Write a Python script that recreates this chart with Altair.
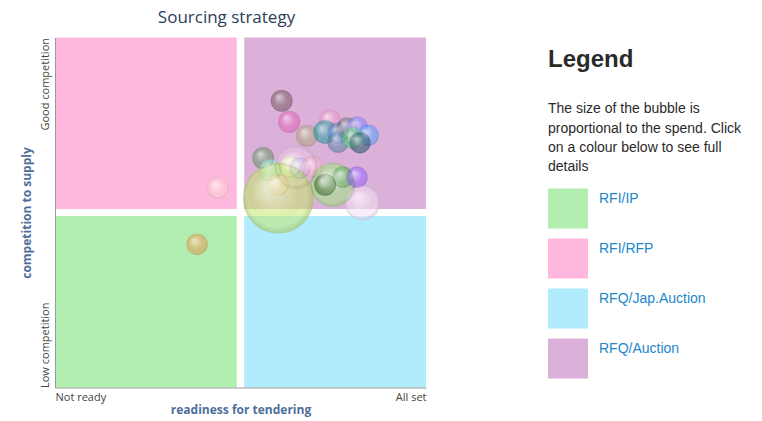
import altair as alt
import pandas as pd

# ---------------- text ----------------
chart_title = "Sourcing strategy"
x_title = "readiness for tendering"
y_title = "competition to supply"
x_tick_labels = ["Not ready", "All set"]
y_tick_labels = ["Low competition", "Good competition"]
legend_heading = "Legend"
legend_lines = [
    "The size of the bubble is",
    "proportional to the spend. Click",
    "on a colour below to see full",
    "details",
]

# ---------------- quadrants (strategies) ----------------
quad_names = ["RFI/IP", "RFI/RFP", "RFQ/Jap.Auction", "RFQ/Auction"]
quad_colors = ["#b2eeb0", "#feb8de", "#b0ebfe", "#dbb1da"]
quad_x0 = [0, 0, 51, 51]
quad_x1 = [49, 49, 100, 100]
quad_y0 = [0, 51, 0, 51]
quad_y1 = [49, 100, 49, 100]

# ---------------- bubbles ----------------
bubble_ids = ["C01", "C02", "C03", "C04", "C05", "C06", "C07", "C08", "C09",
              "C10", "C11", "C12", "C13", "C14", "C15", "C16", "C17", "C18",
              "C19", "C20", "C21", "C22", "C23", "C24", "C25", "C26", "C27"]
readiness = [61.1, 63.1, 74.1, 67.9, 72.8, 76.3, 78.7, 81.4, 84.4,
             76.3, 80.3, 82.2, 56.1, 65.0, 58.0, 63.3, 66.0, 69.3,
             60.1, 60.2, 74.9, 77.6, 72.8, 81.4, 82.9, 43.9, 38.3]
competition = [81.9, 75.9, 76.4, 71.9, 73.0, 72.7, 74.1, 74.4, 72.1,
               70.1, 71.3, 69.9, 65.6, 62.9, 62.1, 63.0, 62.7, 63.0,
               57.9, 54.1, 57.9, 60.1, 57.9, 60.1, 52.7, 57.0, 40.9]
spend = [9.5, 9.5, 9, 9.5, 11, 9, 9, 9, 9,
         9, 9, 9, 9.5, 36, 9.5, 9, 9, 9,
         9.5, 100, 39, 9, 9.5, 9, 24, 9, 9]
bubble_colors = ["#7a5a5e", "#e464bb", "#ed9ecc", "#b2a681", "#20a0a0", "#6785dd",
                 "#787479", "#8985fe", "#579eff", "#5785aa", "#67e889", "#255368",
                 "#679568", "#edc8e5", "#aafae5", "#edffaa", "#bbaef5", "#fdb7d4",
                 "#fda689", "#c8eb6e", "#a0e882", "#67af68", "#356c25", "#9964fe",
                 "#f5e1f6", "#ffd3d3", "#e79e53"]

quads = pd.DataFrame(dict(strategy=quad_names, x0=quad_x0, x1=quad_x1,
                          y0=quad_y0, y1=quad_y1))
bubbles = pd.DataFrame(dict(item=bubble_ids, readiness=readiness,
                            competition=competition, spend=spend))

FONT = "Open Sans"
LFONT = "Liberation Sans"

x_scale = alt.Scale(domain=[0, 100], nice=False, zero=False)
y_scale = alt.Scale(domain=[0, 100], nice=False, zero=False)
color_scale = alt.Scale(domain=quad_names, range=quad_colors)

x_axis = alt.Axis(
    title=x_title, values=[0, 100],
    labelExpr=f"datum.value < 50 ? '{x_tick_labels[0]}' : '{x_tick_labels[1]}'",
    labelFlush=True, ticks=False, tickSize=0, grid=False,
    domainColor="#999999", labelColor="#444444", labelFont=FONT, labelFontSize=11,
    labelPadding=4, titleFont=FONT, titleFontSize=12, titleFontWeight="bold",
    titleColor="#4e6e9b", titlePadding=2, zindex=1)
y_axis = alt.Axis(
    title=y_title, values=[0, 100],
    labelExpr=f"datum.value < 50 ? '{y_tick_labels[0]}' : '{y_tick_labels[1]}'",
    labelAngle=270,
    labelAlign={"condition": {"test": "datum.value < 50", "value": "left"}, "value": "right"},
    labelBaseline="alphabetic", ticks=False, tickSize=0, grid=False,
    domainColor="#999999", labelColor="#444444", labelFont=FONT, labelFontSize=11,
    labelPadding=7, titleFont=FONT, titleFontSize=12, titleFontWeight="bold",
    titleColor="#4e6e9b", titlePadding=6, zindex=1)

quad_layer = alt.Chart(quads).mark_rect().encode(
    x=alt.X("x0:Q", scale=x_scale, axis=x_axis), x2="x1:Q",
    y=alt.Y("y0:Q", scale=y_scale, axis=y_axis), y2="y1:Q",
    color=alt.Color("strategy:N", scale=color_scale, legend=None),
)

size_enc = alt.Size("spend:Q", scale=alt.Scale(domain=[0, 100], range=[0, 5027]), legend=None)

bubble_layer = alt.Chart(bubbles).mark_circle(opacity=0.55).encode(
    x=alt.X("readiness:Q", scale=x_scale, axis=x_axis),
    y=alt.Y("competition:Q", scale=y_scale, axis=y_axis),
    size=size_enc,
    fill=alt.Fill("item:N", scale=alt.Scale(domain=bubble_ids, range=bubble_colors), legend=None),
)

shine = alt.RadialGradient(
    gradient="radial",
    stops=[
        alt.GradientStop(offset=0, color="rgba(255,255,255,0.6)"),
        alt.GradientStop(offset=0.55, color="rgba(255,255,255,0.06)"),
        alt.GradientStop(offset=0.85, color="rgba(0,0,0,0)"),
        alt.GradientStop(offset=1, color="rgba(0,0,0,0.12)"),
    ],
    x1=0.35, y1=0.3, r1=0, x2=0.5, y2=0.5, r2=0.5,
)

shine_layer = alt.Chart(bubbles).mark_circle(fill=shine, opacity=1).encode(
    x=alt.X("readiness:Q", scale=x_scale, axis=x_axis),
    y=alt.Y("competition:Q", scale=y_scale, axis=y_axis),
    size=size_enc,
)

left = alt.layer(quad_layer, bubble_layer, shine_layer).properties(
    width=371, height=350,
    title=alt.Title(chart_title, font=FONT, fontSize=17, fontWeight="normal",
                    color="#2c3e57", baseline="top", offset=10.5, dx=-14),
)

# ---------------- legend panel ----------------
legend_df = pd.DataFrame({"strategy": quad_names})
band = alt.Scale(domain=quad_names, range=[151, 341], paddingInner=0.2, paddingOuter=0)

swatches = alt.Chart(legend_df).mark_rect().encode(
    x=alt.value(0), x2=alt.value(40),
    y=alt.Y("strategy:N", scale=band, axis=None, sort=quad_names),
    color=alt.Color("strategy:N", scale=color_scale, legend=None),
)
labels = alt.Chart(legend_df).mark_text(
    align="left", baseline="alphabetic", dy=14.4, font=LFONT, fontSize=14, color="#1c87c9"
).encode(
    x=alt.value(51),
    y=alt.Y("strategy:N", scale=band, axis=None, sort=quad_names, bandPosition=0),
    text="strategy:N",
)
heading = alt.Chart(pd.DataFrame({"t": [legend_heading]})).mark_text(
    align="left", baseline="alphabetic", font=LFONT, fontSize=24, fontWeight="bold", color="#2a2a2a"
).encode(x=alt.value(0), y=alt.value(29.2), text="t:N")
paragraph = alt.Chart(pd.DataFrame({"t": [0]})).mark_text(
    text=legend_lines, align="left", baseline="alphabetic", lineHeight=19.3,
    font=LFONT, fontSize=14, color="#2a2a2a"
).encode(x=alt.value(0), y=alt.value(75.8))

right = alt.layer(heading, paragraph, swatches, labels).properties(width=200, height=350)

chart = alt.hconcat(left, right, spacing=122, bounds="flush").resolve_scale(
    x="independent", y="independent"
).properties(
    padding={"left": 20, "top": 8.5, "right": 5, "bottom": 2}
).configure_view(stroke=None)

chart.save("out.html", embed_options={"renderer": "svg", "actions": False})
